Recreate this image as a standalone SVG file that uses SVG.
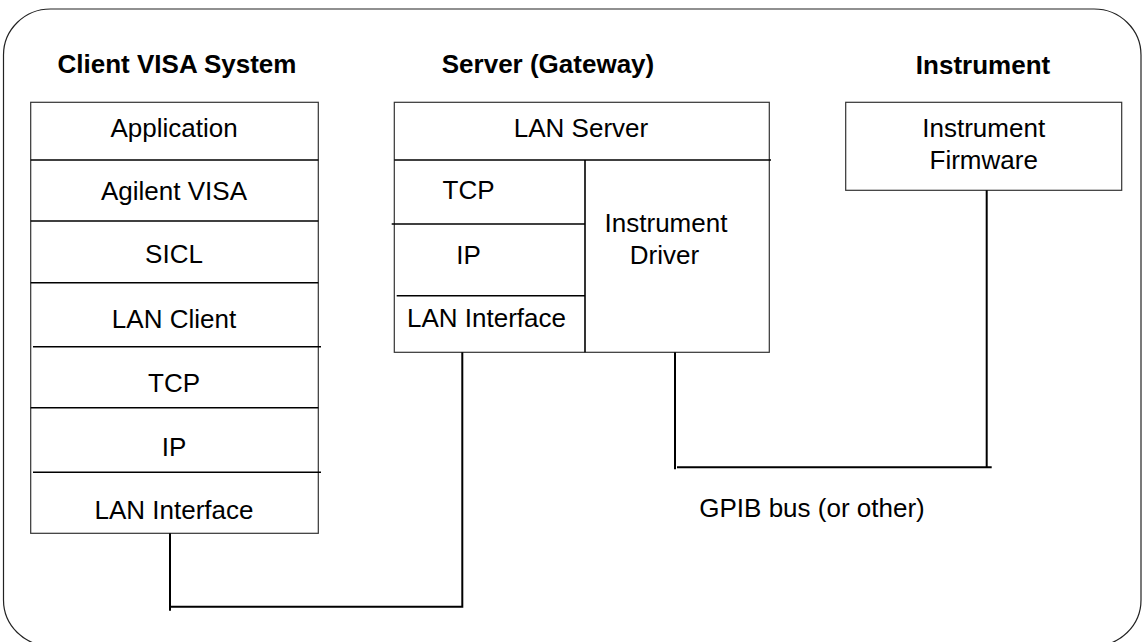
<svg xmlns="http://www.w3.org/2000/svg" width="1143" height="642" viewBox="0 0 1143 642">
<style>
text{font-family:"Liberation Sans",Arial,sans-serif;font-size:26px;fill:#000;text-anchor:middle}
.t{font-weight:bold}
.box{fill:#fff;stroke:#333;stroke-width:1.2}
.div{stroke:#000;stroke-width:1.6;fill:none}
.con{stroke:#000;stroke-width:2;fill:none}
</style>
<rect x="0" y="0" width="1143" height="642" fill="#fff"/>
<rect id="frame" x="3.5" y="9" width="1137.5" height="637" rx="47" ry="46" fill="none" stroke="#222" stroke-width="1.2"/>
<g id="titles">
<text class="t" x="177" y="73">Client VISA System</text>
<text class="t" x="548" y="73">Server (Gateway)</text>
<text class="t" x="983" y="74">Instrument</text>
</g>
<g id="client">
<rect class="box" x="30.7" y="102.3" width="287.6" height="431"/>
<line class="div" x1="30.7" y1="160" x2="318.3" y2="160"/>
<line class="div" x1="30.7" y1="221" x2="318.3" y2="221"/>
<line class="div" x1="30.7" y1="282.7" x2="318.3" y2="282.7"/>
<line class="div" x1="33" y1="346.7" x2="321" y2="346.7"/>
<line class="div" x1="30.7" y1="407.7" x2="318.3" y2="407.7"/>
<line class="div" x1="33" y1="472.3" x2="321" y2="472.3"/>
<text x="174" y="137">Application</text>
<text x="174" y="200">Agilent VISA</text>
<text x="174" y="263">SICL</text>
<text x="174" y="328">LAN Client</text>
<text x="174" y="392">TCP</text>
<text x="174" y="456">IP</text>
<text x="174" y="519">LAN Interface</text>
</g>
<g id="server">
<rect class="box" x="394.3" y="102.3" width="375" height="250"/>
<line class="div" x1="394.3" y1="160" x2="771" y2="160"/>
<line class="div" x1="585" y1="160" x2="585" y2="352.3"/>
<line class="div" x1="391.7" y1="224" x2="585" y2="224"/>
<line class="div" x1="396.7" y1="295.7" x2="585" y2="295.7"/>
<text x="581" y="137">LAN Server</text>
<text x="468.5" y="199">TCP</text>
<text x="468.5" y="264">IP</text>
<text x="486.5" y="327">LAN Interface</text>
<text x="666" y="232">Instrument</text>
<text x="664.5" y="263.5">Driver</text>
</g>
<g id="instrument">
<rect class="box" x="845.7" y="102.3" width="276" height="88"/>
<text x="983.7" y="137">Instrument</text>
<text x="983.7" y="168.5">Firmware</text>
</g>
<g id="connectors">
<polyline class="con" points="170,533.3 170,610.7"/>
<polyline class="con" points="170,606.7 462.3,606.7 462.3,352.3"/>
<polyline class="con" points="675,352.3 675,469.3"/>
<polyline class="con" points="677,467.3 991.7,467.3"/>
<polyline class="con" points="986.7,190.3 986.7,467.3"/>
</g>
<text x="812" y="517">GPIB bus (or other)</text>
</svg>
